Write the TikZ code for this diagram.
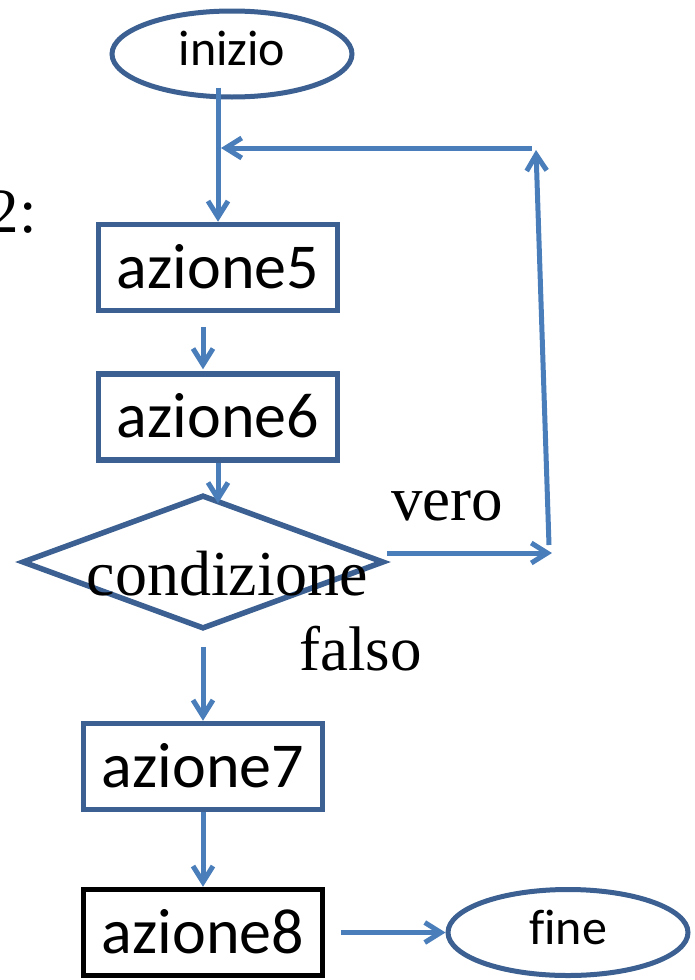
\documentclass[tikz,border=0pt]{standalone}
\usepackage{fontspec}
\setmainfont{Liberation Serif}
\newfontfamily\carl[Ligatures=NoCommon]{Carlito}
\usetikzlibrary{shapes.geometric,arrows.meta,calc}
\definecolor{boxblue}{HTML}{3B6091}
\definecolor{arrblue}{HTML}{4A7EBB}
\begin{document}
\begin{tikzpicture}[x=1pt,y=-1pt,
  boxc/.style={draw=boxblue,line width=5.5pt,rectangle,inner sep=0pt,
    minimum width=239pt,minimum height=86pt,
    font=\carl\fontsize{64}{70}\selectfont,text height=41pt,text depth=0pt},
  ovalc/.style={draw=boxblue,line width=5pt,ellipse,inner sep=0pt,
    minimum width=240pt,minimum height=86pt,
    font=\carl\fontsize{50}{56}\selectfont,text height=23pt,text depth=0pt},
  decis/.style={draw=boxblue,line width=5.5pt,diamond,inner sep=0pt,
    minimum width=362pt,minimum height=134pt},
  lbl/.style={inner sep=0pt,font=\fontsize{63}{70}\selectfont},
  arr/.style={draw=arrblue,line width=5pt,
    -{Straight Barb[length=16pt,width=20pt]}}
]
\useasboundingbox (0,0) rectangle (695,980);

\node[ovalc] (inizio) at (232,54) {inizio};
\node[lbl,anchor=base east] (two) at (37,232) {2:};
\node[boxc] (azione5) at (218,267.5) {azione5};
\node[boxc] (azione6) at (218,417) {azione6};
\node[decis] (diamond) at (203,562) {};
\node[lbl,font=\fontsize{64}{70}\selectfont,anchor=base] (cond) at (227,595) {condizione};
\node[lbl,anchor=base west] (vero) at (391,520) {vero};
\node[lbl,anchor=base west] (falso) at (299,670) {falso};
\node[boxc] (azione7) at (203,766.5) {azione7};
\node[boxc,draw=black] (azione8) at (203,932.5) {azione8};
\node[ovalc] (fine) at (568,932.5) {fine\hspace{36pt}};

\coordinate (ve) at (552,553);
\coordinate (vb) at (549,545);
\coordinate (vt) at (536,150);
\coordinate (hr) at (532,148);

\draw[arr] ($(azione5.north |- inizio.south)+(0,-12)$) -- (azione5.north);
\draw[arr] ($(diamond.east)+(0,-9)$) -- (ve);
\draw[arr] (vb) -- (vt);
\draw[arr] (hr) -- ($(azione5.north |- hr)+(3,0)$);
\draw[arr] ($(azione5.south)+(-15,14)$) -- ($(azione6.north)+(-15,-2)$);
\draw[arr] (azione6.south) -- ($(diamond.north)+(15,11)$);
\draw[arr] ($(diamond.south)+(0,15)$) -- (azione7.north);
\draw[arr] (azione7.south) -- (azione8.north);
\draw[arr] ($(azione8.east)+(16,0)$) -- (fine.west);
\end{tikzpicture}
\end{document}
